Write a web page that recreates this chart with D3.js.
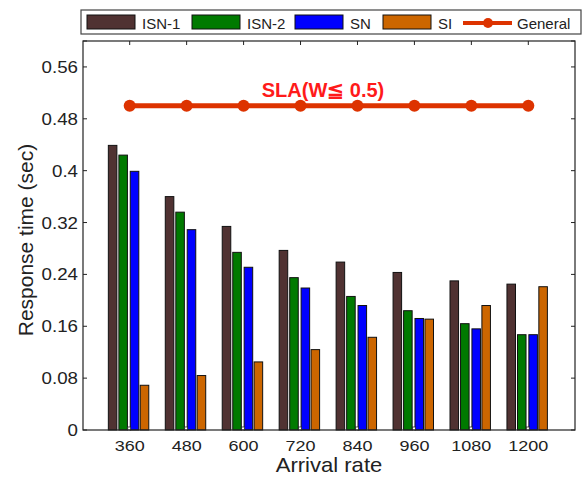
<!DOCTYPE html>
<html>
<head>
<meta charset="utf-8">
<script src="https://cdn.jsdelivr.net/npm/d3@7"></script>
<style>
  body { margin: 0; background: #fff; }
  text { font-family: "Liberation Sans", Arial, sans-serif; }
</style>
</head>
<body>
<div id="chart"></div>
<script>
var rates = [360, 480, 600, 720, 840, 960, 1080, 1200];
var seriesNames = ["ISN-1", "ISN-2", "SN", "SI"];
var isn1 = [0.439, 0.360, 0.314, 0.277, 0.259, 0.243, 0.230, 0.225];
var isn2 = [0.424, 0.336, 0.274, 0.235, 0.206, 0.184, 0.164, 0.147];
var sn = [0.399, 0.309, 0.251, 0.219, 0.192, 0.172, 0.156, 0.147];
var si = [0.069, 0.084, 0.105, 0.124, 0.143, 0.171, 0.192, 0.221];
var general = [0.5, 0.5, 0.5, 0.5, 0.5, 0.5, 0.5, 0.5];
var yTicks = [0, 0.08, 0.16, 0.24, 0.32, 0.4, 0.48, 0.56];
var yTickLabels = ["0", "0.08", "0.16", "0.24", "0.32", "0.4", "0.48", "0.56"];

var width = 585,
  height = 477;
var colors = ["#503232", "#007a00", "#0000ff", "#cc6600"];
// bar centre offset (in category units) for each series
var offsets = [-0.30, -0.115, 0.085, 0.26];
var barW = 0.15;

var svg = d3.select("#chart")
  .append("svg")
  .attr("width", width)
  .attr("height", height);

var pLeft = 83, pRight = 575, pTop = 41, pBottom = 430;

var x = d3.scaleLinear().domain([0.18, 8.82]).range([pLeft, pRight]);
var y = d3.scaleLinear().domain([0, 0.6]).range([pBottom, pTop]);

var data = [isn1, isn2, sn, si];

// bars
data.forEach(function (vals, s) {
  svg.selectAll(".bar" + s)
    .data(vals)
    .enter()
    .append("rect")
    .attr("x", function (d, i) { return x(i + 1 + offsets[s] - barW / 2) })
    .attr("y", function (d) { return y(d) })
    .attr("width", x(barW) - x(0))
    .attr("height", function (d) { return y(0) - y(d) })
    .attr("fill", colors[s])
    .attr("stroke", "#111")
    .attr("stroke-width", 1);
});

// small centre markers at the bottom of each group
svg.selectAll(".mid")
  .data(rates)
  .enter()
  .append("rect")
  .attr("x", function (d, i) { return x(i + 1) - 2 })
  .attr("y", y(0) - 3)
  .attr("width", 3)
  .attr("height", 3)
  .attr("fill", "#fff")
  .attr("stroke", "#222")
  .attr("stroke-width", 0.8);

// frame
svg.append("rect")
  .attr("x", pLeft).attr("y", pTop)
  .attr("width", pRight - pLeft).attr("height", pBottom - pTop)
  .attr("fill", "none").attr("stroke", "#222").attr("stroke-width", 1.2);

// y ticks, both sides pointing in
svg.selectAll(".ytl")
  .data(yTicks.concat([0.6]))
  .enter()
  .append("line")
  .attr("x1", pLeft).attr("x2", pLeft + 4)
  .attr("y1", function (d) { return y(d) }).attr("y2", function (d) { return y(d) })
  .attr("stroke", "#222");
svg.selectAll(".ytr")
  .data(yTicks.concat([0.6]))
  .enter()
  .append("line")
  .attr("x1", pRight).attr("x2", pRight - 4)
  .attr("y1", function (d) { return y(d) }).attr("y2", function (d) { return y(d) })
  .attr("stroke", "#222");

// x ticks on top
svg.selectAll(".xtt")
  .data(rates)
  .enter()
  .append("line")
  .attr("x1", function (d, i) { return x(i + 1) }).attr("x2", function (d, i) { return x(i + 1) })
  .attr("y1", pTop).attr("y2", pTop + 4)
  .attr("stroke", "#222");

// y labels (the source font is a bit wider, hence the x stretch)
svg.selectAll(".ylab")
  .data(yTicks)
  .enter()
  .append("text")
  .attr("transform", function (d) { return "translate(" + (pLeft - 5) + "," + (y(d) + 6) + ") scale(1.17,1)" })
  .attr("text-anchor", "end")
  .attr("font-size", 16)
  .attr("fill", "#222")
  .text(function (d, i) { return yTickLabels[i] });

// x labels
svg.selectAll(".xlab")
  .data(rates)
  .enter()
  .append("text")
  .attr("transform", function (d, i) { return "translate(" + x(i + 1) + ",451) scale(1.2,1)" })
  .attr("text-anchor", "middle")
  .attr("font-size", 15)
  .attr("fill", "#222")
  .text(function (d) { return d });

svg.append("text")
  .attr("transform", "translate(" + ((pLeft + pRight) / 2) + ",472) scale(1.05,1)")
  .attr("text-anchor", "middle")
  .attr("font-size", 21)
  .attr("fill", "#222")
  .text("Arrival rate");

svg.append("text")
  .attr("transform", "translate(33,240) rotate(-90)")
  .attr("text-anchor", "middle")
  .attr("font-size", 21)
  .attr("fill", "#222")
  .text("Response time (sec)");

// SLA line
var line = d3.line()
  .x(function (d, i) { return x(i + 1) })
  .y(function (d) { return y(d) });

svg.append("path")
  .datum(general)
  .attr("d", line)
  .attr("fill", "none")
  .attr("stroke", "#dd3300")
  .attr("stroke-width", 5);

svg.selectAll(".dot")
  .data(general)
  .enter()
  .append("circle")
  .attr("cx", function (d, i) { return x(i + 1) })
  .attr("cy", function (d) { return y(d) })
  .attr("r", 6)
  .attr("fill", "#dd3300");

svg.append("text")
  .attr("x", 323)
  .attr("y", 97)
  .attr("text-anchor", "middle")
  .attr("font-size", 20)
  .attr("font-weight", "bold")
  .attr("fill", "#ff1a1a")
  .text("SLA(W\u2266 0.5)");

// legend
var lg = svg.append("g");
lg.append("rect")
  .attr("x", 81).attr("y", 10)
  .attr("width", 500).attr("height", 24)
  .attr("fill", "#fff").attr("stroke", "#444").attr("stroke-width", 1.2);

var swX = [87, 192, 295, 383];
seriesNames.forEach(function (n, s) {
  lg.append("rect")
    .attr("x", swX[s]).attr("y", 15)
    .attr("width", 48).attr("height", 14)
    .attr("fill", colors[s])
    .attr("stroke", "#111");
  lg.append("text")
    .attr("x", swX[s] + 55).attr("y", 29)
    .attr("font-size", 15)
    .attr("fill", "#222")
    .text(n);
});
lg.append("line")
  .attr("x1", 463).attr("x2", 512)
  .attr("y1", 23).attr("y2", 23)
  .attr("stroke", "#dd3300").attr("stroke-width", 4);
lg.append("circle")
  .attr("cx", 488).attr("cy", 23).attr("r", 5)
  .attr("fill", "#dd3300");
lg.append("text")
  .attr("x", 517).attr("y", 29)
  .attr("font-size", 15)
  .attr("fill", "#222")
  .text("General");
</script>
</body>
</html>
